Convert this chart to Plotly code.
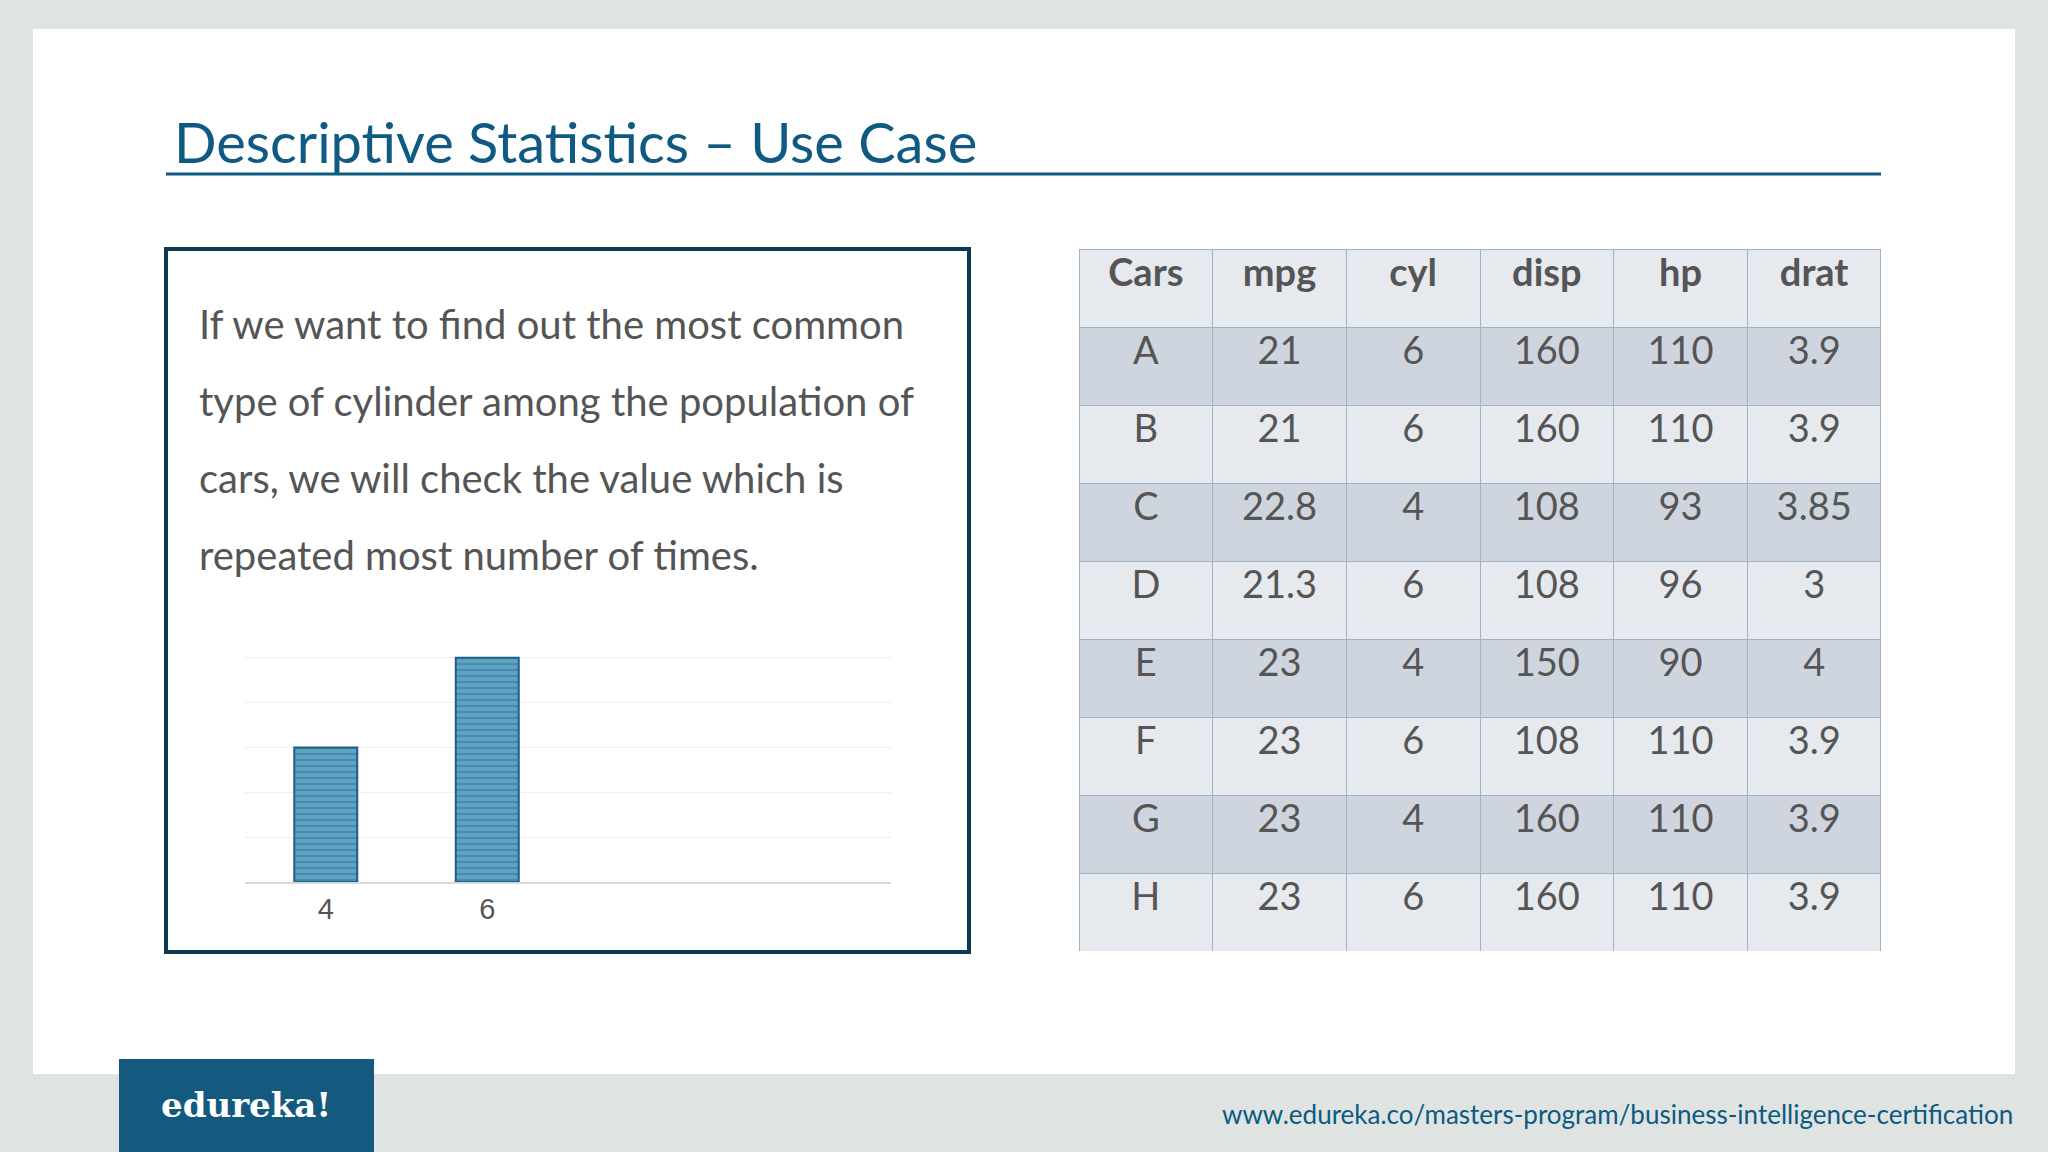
import plotly.graph_objects as go

W, H = 2048, 1152
cyl_cats = [4, 6]
cyl_counts = [3, 5]

cars = ["A", "B", "C", "D", "E", "F", "G", "H"]
mpg = ["21", "21", "22.8", "21.3", "23", "23", "23", "23"]
cyl = ["6", "6", "4", "6", "4", "6", "4", "6"]
disp = ["160", "160", "108", "108", "150", "108", "160", "160"]
hp = ["110", "110", "93", "96", "90", "110", "110", "110"]
drat = ["3.9", "3.9", "3.85", "3", "4", "3.9", "3.9", "3.9"]
headers = ["Cars", "mpg", "cyl", "disp", "hp", "drat"]
paragraph = ["If we want to find out the most common",
             "type of cylinder among the population of",
             "cars, we will check the value which is",
             "repeated most number of times."]

def px(x): return x / W
def py(y): return 1 - y / H

fig = go.Figure()
fig.add_trace(go.Bar(
    x=cyl_cats, y=cyl_counts, width=0.78,
    marker=dict(color="#5fa2c2", line=dict(color="#1d6186", width=2),
                pattern=dict(shape="-", fgcolor="#2a6f93", size=6, solidity=0.3)),
    xaxis="x", yaxis="y", showlegend=False))

dark, light = "#cfd5de", "#e6e9ee"
fills = [[dark if i % 2 == 0 else light for i in range(8)]] * 6
fig.add_trace(go.Table(
    domain=dict(x=[px(1079), px(1881)], y=[py(952), py(249)]),
    columnwidth=[1] * 6,
    header=dict(values=headers, fill_color="#e6e9ee", height=78,
                line=dict(color="#9fb3c8", width=1),
                font=dict(family="Lato", size=38, color="#555555", weight="bold"),
                align="center"),
    cells=dict(values=[cars, mpg, cyl, disp, hp, drat], fill_color=fills, height=78,
               line=dict(color="#9fb3c8", width=1),
               font=dict(family="Lato", size=38, color="#555555"), align="center")))

shapes = [
    dict(type="rect", xref="paper", yref="paper", x0=px(33), x1=px(2015), y0=py(1074), y1=py(29),
         fillcolor="white", line=dict(width=0), layer="below"),
    dict(type="line", xref="paper", yref="paper", x0=px(166), x1=px(1881), y0=py(174), y1=py(174),
         line=dict(color="#0f5a82", width=3)),
    dict(type="rect", xref="paper", yref="paper", x0=px(166), x1=px(969), y0=py(952), y1=py(249),
         line=dict(color="#0d3a52", width=4)),
    dict(type="rect", xref="paper", yref="paper", x0=px(119), x1=px(374), y0=0, y1=py(1059),
         fillcolor="#145a7f", line=dict(width=0)),
]
ann = [dict(text="Descriptive Statistics – Use Case", x=px(172), y=py(141), xref="paper", yref="paper",
            xanchor="left", yanchor="middle", showarrow=False,
            font=dict(family="Lato", size=56, color="#0f5a82")),
       dict(text="edureka!", x=px(246), y=py(1105), xref="paper", yref="paper", showarrow=False,
            xanchor="center", yanchor="middle",
            font=dict(family="DejaVu Serif", size=34, color="white", weight="bold")),
       dict(text="www.edureka.co/masters-program/business-intelligence-certification", x=px(2015), y=py(1114),
            xref="paper", yref="paper", xanchor="right", yanchor="middle", showarrow=False,
            font=dict(family="Lato", size=26, color="#0d5a80"))]
for i, line in enumerate(paragraph):
    ann.append(dict(text=line, x=px(197), y=py(324 + 77 * i), xref="paper", yref="paper",
                    xanchor="left", yanchor="middle", showarrow=False,
                    font=dict(family="Lato", size=40, color="#555555")))

fig.update_layout(
    width=W, height=H, margin=dict(l=0, r=0, t=0, b=0),
    paper_bgcolor="#dfe4e3", plot_bgcolor="white",
    shapes=shapes, annotations=ann,
    xaxis=dict(domain=[px(245), px(891)], range=[3, 11], tickvals=cyl_cats,
               tickfont=dict(family="Liberation Sans", size=29, color="#555555"),
               showgrid=False, zeroline=False, showline=True, linecolor="#d9d9d9", linewidth=2),
    yaxis=dict(domain=[py(882), py(613)], range=[0, 6], dtick=1, showticklabels=False,
               gridcolor="#eeeeee", zeroline=False),
)
fig.write_html("out.html", config={"displayModeBar": False},
               post_script="document.body.style.margin='0';")
